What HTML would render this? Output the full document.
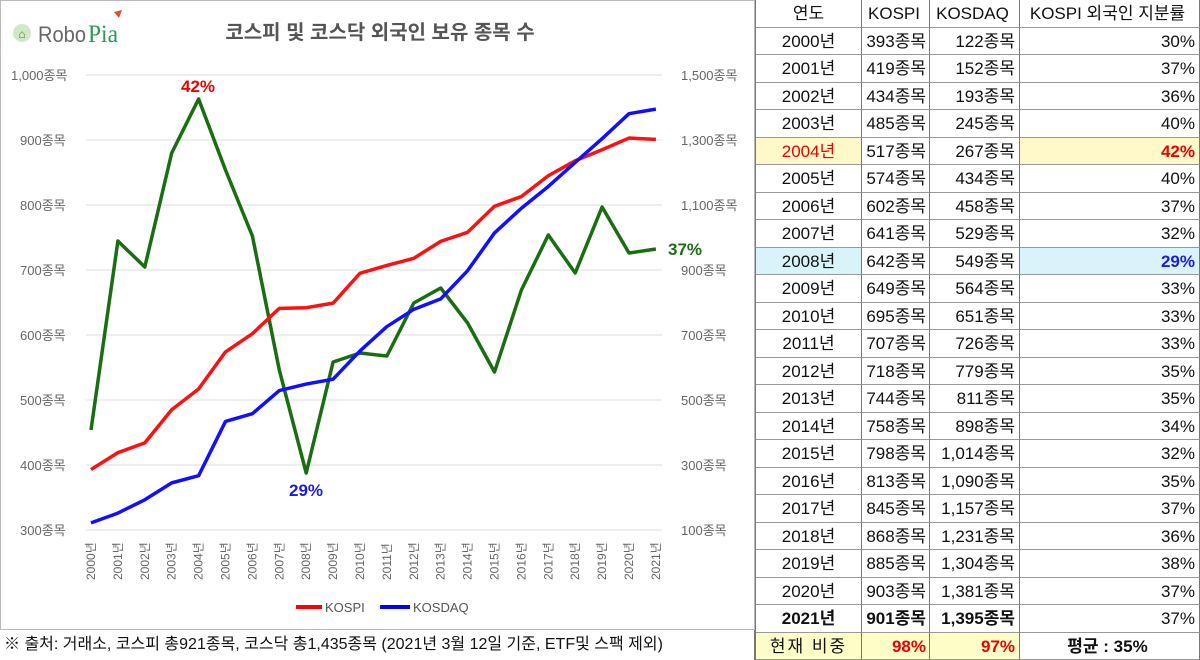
<!DOCTYPE html>
<html><head><meta charset="utf-8">
<style>
body{margin:0;width:1200px;height:660px;background:#fff;position:relative;overflow:hidden;font-family:"Liberation Sans","Noto Sans CJK KR",sans-serif;}
.r{position:absolute;left:756px;width:444px;height:27.5px;font-size:17px;color:#111;}
.r div{position:absolute;top:0;height:27.5px;line-height:27.5px;box-sizing:border-box;border-right:1px solid #777;border-bottom:1px solid #999;white-space:nowrap;}
.c1{left:0;width:106px;text-align:center;}
.c2{left:106px;width:68px;text-align:right;padding-right:3px;}
.c3{left:174px;width:90px;text-align:right;padding-right:4px;}
.c4{left:264px;width:180px;text-align:right;padding-right:4px;}
</style></head><body>
<div style="position:absolute;left:0;top:0;width:755px;height:630px;border:1px solid #bbb;box-sizing:border-box;"></div>
<svg width="755" height="630" style="position:absolute;left:0;top:0" font-family="Liberation Sans, Noto Sans CJK KR, sans-serif">
<circle cx="22" cy="33" r="9" fill="#cfe9c8"/>
<text x="22" y="38" font-size="12" text-anchor="middle" fill="#5a7a2a">⌂</text>
<text x="38" y="42" font-size="22" fill="#666" textLength="48" lengthAdjust="spacingAndGlyphs">Robo</text>
<text x="88" y="42" font-size="25" fill="#2a9a5a" font-family="Liberation Serif, serif" textLength="30" lengthAdjust="spacingAndGlyphs">Pia</text>
<path d="M114 12 L122 10 L119 18 Z" fill="#e05030"/>
<text x="380" y="39" font-size="20" font-weight="bold" fill="#555" text-anchor="middle">코스피 및 코스닥 외국인 보유 종목 수</text>
<g stroke="#ddd" stroke-width="1">
<line x1="86" x2="662" y1="75" y2="75"/><line x1="86" x2="662" y1="140" y2="140"/><line x1="86" x2="662" y1="205" y2="205"/><line x1="86" x2="662" y1="270" y2="270"/><line x1="86" x2="662" y1="335" y2="335"/><line x1="86" x2="662" y1="400" y2="400"/><line x1="86" x2="662" y1="465" y2="465"/><line x1="86" x2="662" y1="530" y2="530"/>
</g>
<g font-size="13" fill="#666">
<text x="11" y="80">1,000종목</text><text x="20" y="145">900종목</text><text x="20" y="210">800종목</text><text x="20" y="275">700종목</text><text x="20" y="340">600종목</text><text x="20" y="405">500종목</text><text x="20" y="470">400종목</text><text x="20" y="535">300종목</text>
<text x="681" y="80">1,500종목</text><text x="681" y="145">1,300종목</text><text x="681" y="210">1,100종목</text><text x="681" y="275">900종목</text><text x="681" y="340">700종목</text><text x="681" y="405">500종목</text><text x="681" y="470">300종목</text><text x="681" y="535">100종목</text>
</g>
<g id="xl" font-size="12" fill="#666"></g>
<polyline id="gr" fill="none" stroke="#1a6e12" stroke-width="3.5" stroke-linejoin="round"/>
<polyline id="ks" fill="none" stroke="#ff1010" stroke-width="3.5" stroke-linejoin="round"/>
<polyline id="kq" fill="none" stroke="#1010ff" stroke-width="3.5" stroke-linejoin="round"/>
<text x="198" y="92" font-size="17" font-weight="bold" fill="#e00" text-anchor="middle">42%</text>
<text x="306" y="496" font-size="17" font-weight="bold" fill="#1a1aee" text-anchor="middle">29%</text>
<text x="668" y="255" font-size="17" font-weight="bold" fill="#1a6e12">37%</text>
<line x1="296" x2="322" y1="607" y2="607" stroke="#f00" stroke-width="4"/>
<text x="325" y="612" font-size="13" fill="#555">KOSPI</text>
<line x1="380" x2="410" y1="607" y2="607" stroke="#00f" stroke-width="4"/>
<text x="413" y="612" font-size="13" fill="#555">KOSDAQ</text>
</svg>
<div style="position:absolute;left:0;top:630px;width:755px;height:30px;line-height:30px;font-size:16px;color:#111;padding-left:4px;border-right:1px solid #777;box-sizing:border-box;">※ 출처: 거래소, 코스피 총921종목, 코스닥 총1,435종목 (2021년 3월 12일 기준, ETF및 스팩 제외)</div>

<div class="r" style="top:0"><div class="c1">연도</div><div class="c2" style="text-align:center">KOSPI</div><div class="c3" style="text-align:center">KOSDAQ</div><div class="c4" style="text-align:center">KOSPI 외국인 지분률</div></div>
<div class="r" style="top:27.5px"><div class="c1">2000년</div><div class="c2">393종목</div><div class="c3">122종목</div><div class="c4">30%</div></div>
<div class="r" style="top:55px"><div class="c1">2001년</div><div class="c2">419종목</div><div class="c3">152종목</div><div class="c4">37%</div></div>
<div class="r" style="top:82.5px"><div class="c1">2002년</div><div class="c2">434종목</div><div class="c3">193종목</div><div class="c4">36%</div></div>
<div class="r" style="top:110px"><div class="c1">2003년</div><div class="c2">485종목</div><div class="c3">245종목</div><div class="c4">40%</div></div>
<div class="r" style="top:137.5px"><div class="c1" style="background:#fff8c8;color:#e00">2004년</div><div class="c2">517종목</div><div class="c3">267종목</div><div class="c4" style="background:#fff8c8;color:#e00;font-weight:bold">42%</div></div>
<div class="r" style="top:165px"><div class="c1">2005년</div><div class="c2">574종목</div><div class="c3">434종목</div><div class="c4">40%</div></div>
<div class="r" style="top:192.5px"><div class="c1">2006년</div><div class="c2">602종목</div><div class="c3">458종목</div><div class="c4">37%</div></div>
<div class="r" style="top:220px"><div class="c1">2007년</div><div class="c2">641종목</div><div class="c3">529종목</div><div class="c4">32%</div></div>
<div class="r" style="top:247.5px"><div class="c1" style="background:#d8f4fa">2008년</div><div class="c2">642종목</div><div class="c3">549종목</div><div class="c4" style="background:#d8f4fa;color:#1a1aee;font-weight:bold">29%</div></div>
<div class="r" style="top:275px"><div class="c1">2009년</div><div class="c2">649종목</div><div class="c3">564종목</div><div class="c4">33%</div></div>
<div class="r" style="top:302.5px"><div class="c1">2010년</div><div class="c2">695종목</div><div class="c3">651종목</div><div class="c4">33%</div></div>
<div class="r" style="top:330px"><div class="c1">2011년</div><div class="c2">707종목</div><div class="c3">726종목</div><div class="c4">33%</div></div>
<div class="r" style="top:357.5px"><div class="c1">2012년</div><div class="c2">718종목</div><div class="c3">779종목</div><div class="c4">35%</div></div>
<div class="r" style="top:385px"><div class="c1">2013년</div><div class="c2">744종목</div><div class="c3">811종목</div><div class="c4">35%</div></div>
<div class="r" style="top:412.5px"><div class="c1">2014년</div><div class="c2">758종목</div><div class="c3">898종목</div><div class="c4">34%</div></div>
<div class="r" style="top:440px"><div class="c1">2015년</div><div class="c2">798종목</div><div class="c3">1,014종목</div><div class="c4">32%</div></div>
<div class="r" style="top:467.5px"><div class="c1">2016년</div><div class="c2">813종목</div><div class="c3">1,090종목</div><div class="c4">35%</div></div>
<div class="r" style="top:495px"><div class="c1">2017년</div><div class="c2">845종목</div><div class="c3">1,157종목</div><div class="c4">37%</div></div>
<div class="r" style="top:522.5px"><div class="c1">2018년</div><div class="c2">868종목</div><div class="c3">1,231종목</div><div class="c4">36%</div></div>
<div class="r" style="top:550px"><div class="c1">2019년</div><div class="c2">885종목</div><div class="c3">1,304종목</div><div class="c4">38%</div></div>
<div class="r" style="top:577.5px"><div class="c1">2020년</div><div class="c2">903종목</div><div class="c3">1,381종목</div><div class="c4">37%</div></div>
<div class="r" style="top:605px;font-weight:bold"><div class="c1">2021년</div><div class="c2">901종목</div><div class="c3">1,395종목</div><div class="c4" style="font-weight:normal">37%</div></div>
<div class="r" style="top:632.5px"><div class="c1" style="background:#fdfdc8;letter-spacing:2px">현재 비중</div><div class="c2" style="background:#fdfdc8;color:#e00;font-weight:bold">98%</div><div class="c3" style="background:#fdfdc8;color:#e00;font-weight:bold">97%</div><div class="c4" style="text-align:center;font-weight:bold">평균 : 35%</div></div>
<div style="position:absolute;left:755px;top:0;width:1px;height:660px;background:#777"></div>

<script>
var ks=[393,419,434,485,517,574,602,641,642,649,695,707,718,744,758,798,813,845,868,885,903,901];
var kq=[122,152,193,245,267,434,458,529,549,564,651,726,779,811,898,1014,1090,1157,1231,1304,1381,1395];
var gy=[430,241,267,153,99,170,236,370,473,362,353,356,303,288,323,372,290,235,273,207,253,249];
function X(i){return 91+i*26.9;}
var a=[],b=[],c=[];
for(var i=0;i<22;i++){a.push(X(i)+','+(75+(1000-ks[i])*0.65));b.push(X(i)+','+(75+(1500-kq[i])*0.325));c.push(X(i)+','+gy[i]);}
document.getElementById('ks').setAttribute('points',a.join(' '));
document.getElementById('kq').setAttribute('points',b.join(' '));
document.getElementById('gr').setAttribute('points',c.join(' '));
var g=document.getElementById('xl'),ns='http://www.w3.org/2000/svg';
for(var i=0;i<22;i++){var t=document.createElementNS(ns,'text');t.setAttribute('transform','translate('+(X(i)+4)+',580) rotate(-90)');t.textContent=(2000+i)+'년';g.appendChild(t);}
</script>
</body></html>
